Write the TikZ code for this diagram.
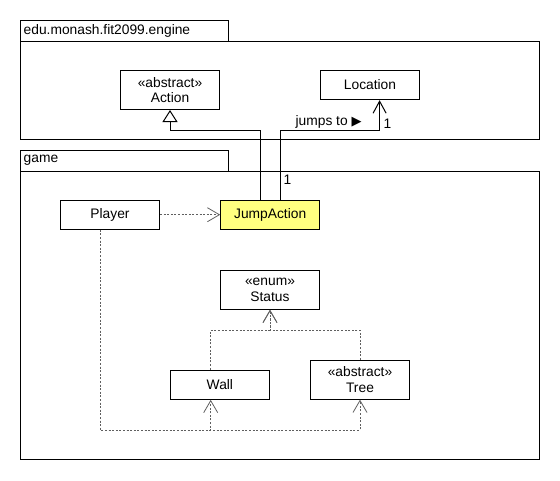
\documentclass[tikz,border=0pt]{standalone}
\usepackage{fontspec}
\setmainfont{Liberation Sans}
\newfontfamily\symfont{DejaVu Sans}
\usepackage{tikz}
\usetikzlibrary{arrows.meta,positioning,calc}
\usepackage{xcolor}
\definecolor{jumpyellow}{RGB}{255,255,128}
\definecolor{depgray}{RGB}{95,95,95}

\begin{document}
\begin{tikzpicture}[x=1pt, y=-1pt,
    every node/.style={font=\fontsize{13.8}{15.7}\selectfont},
    cls/.style={draw, line width=1pt, minimum width=99pt, minimum height=29.3pt, inner sep=0pt, align=center},
    cls2/.style={cls, minimum height=39pt},
    pkg/.style={line width=1pt},
    dep/.style={depgray, dash pattern=on 2pt off 1.6pt, line width=0.8pt, -{Straight Barb[length=12pt,width=14pt]}},
    gen/.style={line width=1pt, -{Triangle[open,length=12pt,width=15pt]}},
    assoc/.style={line width=1pt, -{Straight Barb[length=12pt,width=13pt]}}]
        \useasboundingbox (0,0) rectangle (560,480);
        % engine package
        \draw[pkg] (20.7,20.3) rectangle (228.6,41.3);
        \draw[pkg] (20.7,41.3) rectangle (539.3,139.3);
        \node[anchor=west, inner sep=0pt] (enginename) at (23.5,31) {edu.monash.fit2099.engine};
        % game package
        \draw[pkg] (20.7,150.3) rectangle (228.6,171.3);
        \draw[pkg] (20.7,171.3) rectangle (539.3,459);
        \node[anchor=west, inner sep=0pt] (gamename) at (23.5,160.5) {game};

        \node[cls2] (action) at (170,90) {«abstract»\\Action};
        \node[cls] (location) at (370,85) {Location};
        \node[cls] (player) at (110,214.7) {Player};
        \node[cls, fill=jumpyellow] (jump) at (270.2,214.7) {JumpAction};
        \node[cls2] (status) at (270,289.8) {«enum»\\Status};
        \node[cls] (wall) at (219.9,384.7) {Wall};
        \node[cls2] (tree) at (360,379.7) {«abstract»\\Tree};

        \coordinate (topbend) at (0,130.7);
        \coordinate (statusbend) at (0,330);
        \coordinate (usebend) at (0,430);
        \coordinate (jumpgen) at ([xshift=-9.5pt]jump.north);
        \coordinate (jumpassoc) at ([xshift=10pt]jump.north);
        \coordinate (locin) at ([xshift=9.6pt]location.south);
        \coordinate (playerout) at ([xshift=-10pt]player.south);
        \coordinate (wallin) at ([xshift=-9.2pt]wall.south);
        \coordinate (wallout) at ([xshift=-9.2pt]wall.north);

        \draw[gen] (jumpgen) |- (action.south |- topbend) -- (action.south);
        \draw[assoc] (jumpassoc) |- (locin |- topbend) -- (locin);
        \node (jumpsto) at (328.6,121.5) {jumps to {\symfont\fontsize{13}{14}\selectfont ▶}};
        \node (multloc) at (387.5,124) {1};
        \node (multjump) at (287.5,180) {1};

        \draw[dep] (player.east) -- (jump.west);
        \draw[dep] (wallout) |- (status.south |- statusbend) -- (status.south);
        \draw[dep] (tree.north) |- (status.south |- statusbend) -- (status.south);
        \draw[dep] (playerout) |- (wallin |- usebend) -- (wallin);
        \draw[dep] (playerout) |- (tree.south |- usebend) -- (tree.south);
      \end{tikzpicture}
\end{document}
